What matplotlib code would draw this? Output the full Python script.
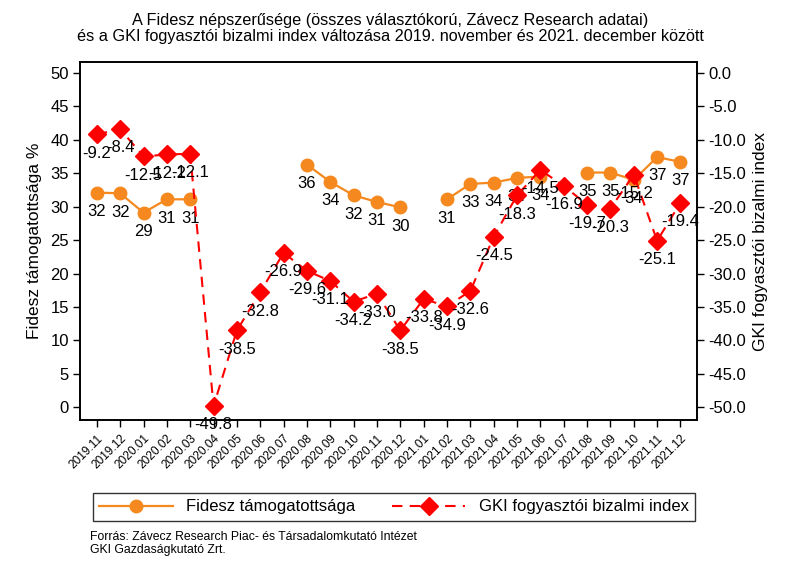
import matplotlib
matplotlib.use("Agg")
import matplotlib.pyplot as plt
import numpy as np

plt.rcParams['font.family'] = ['Liberation Sans', 'DejaVu Sans']

months = ['2019.11', '2019.12', '2020.01', '2020.02', '2020.03', '2020.04',
          '2020.05', '2020.06', '2020.07', '2020.08', '2020.09', '2020.10',
          '2020.11', '2020.12', '2021.01', '2021.02', '2021.03', '2021.04',
          '2021.05', '2021.06', '2021.07', '2021.08', '2021.09', '2021.10',
          '2021.11', '2021.12']

# Fidesz support (%), nan = no survey that month
fidesz = [32.1, 32.0, 29.1, 31.1, 31.1, np.nan,
          np.nan, np.nan, np.nan, 36.3, 33.7, 31.7,
          30.7, 29.9, np.nan, 31.1, 33.4, 33.6,
          34.3, 34.5, np.nan, 35.1, 35.1, 34.0,
          37.4, 36.7]

# GKI consumer confidence index
gki = [-9.2, -8.4, -12.5, -12.2, -12.1, -49.8,
       -38.5, -32.8, -26.9, -29.6, -31.1, -34.2,
       -33.0, -38.5, -33.8, -34.9, -32.6, -24.5,
       -18.3, -14.5, -16.9, -19.7, -20.3, -15.2,
       -25.1, -19.4]

orange = '#f5891f'
red = '#ff0000'

x = np.arange(len(months))

fig = plt.figure(figsize=(8, 5.81), dpi=100)
ax = fig.add_axes([0.1, 0.277, 0.771, 0.616])
ax2 = ax.twinx()

l1, = ax.plot(x, fidesz, color=orange, lw=1.6, marker='o', ms=9,
              markeredgecolor=orange, zorder=3)
l2, = ax2.plot(x, gki, color=red, lw=1.5, ls=(0, (5, 3.5)), marker='D', ms=9.5,
               markeredgecolor=red, zorder=3)

for xi, v in zip(x, fidesz):
    if not np.isnan(v):
        ax.annotate('%.0f' % v, (xi, v), xytext=(0, -13.5), textcoords='offset points',
                    ha='center', va='center', fontsize=12)
for xi, v in zip(x, gki):
    ax2.annotate('%.1f' % v, (xi, v), xytext=(0, -13.5), textcoords='offset points',
                 ha='center', va='center', fontsize=12)

ax.set_xlim(-0.72, 25.7)
ax.set_ylim(-1.9, 51.6)
ax2.set_ylim(-51.9, 1.6)

ax.set_yticks(np.arange(0, 51, 5))
ax2.set_yticks(np.arange(0, -51, -5))
ax2.set_yticklabels(['%.1f' % t for t in np.arange(0, -51, -5)])
ax.set_xticks(x)
ax.set_xticklabels(months, rotation=45, ha='right', rotation_mode='anchor', fontsize=8.6)

ax.tick_params(axis='y', labelsize=12, length=5, width=1, pad=3)
ax2.tick_params(axis='y', labelsize=12, length=5, width=1, pad=3)
ax.tick_params(axis='x', length=5, width=1, pad=4)

for a in (ax, ax2):
    for s in a.spines.values():
        s.set_linewidth(1.2)

ax.set_ylabel('Fidesz támogatottsága %', fontsize=12.5, labelpad=6)
ax2.set_ylabel('GKI fogyasztói bizalmi index', fontsize=12.5, labelpad=5)

fig.text(0.4875, 0.951,
         'A Fidesz népszerűsége (összes választókorú, Závecz Research adatai)\n'
         'és a GKI fogyasztói bizalmi index változása 2019. november és 2021. december között',
         ha='center', va='center', fontsize=11.7, multialignment='center', linespacing=1.05)

leg = fig.legend([l1, l2], ['Fidesz támogatottsága', 'GKI fogyasztói bizalmi index'],
                 loc='center', ncol=2, mode='expand',
                 bbox_to_anchor=(0.116, 0.088, 0.753, 0.079),
                 fontsize=12, handlelength=4.4, handletextpad=0.8,
                 frameon=True, fancybox=False, borderaxespad=0)
leg.get_frame().set_edgecolor('black')
leg.get_frame().set_linewidth(1.0)

fig.text(0.1125, 0.075, 'Forrás: Závecz Research Piac- és Társadalomkutató Intézet',
         fontsize=8.8, va='center')
fig.text(0.1125, 0.054, 'GKI Gazdaságkutató Zrt.', fontsize=8.8, va='center')

fig.savefig('out.png', dpi=100)
